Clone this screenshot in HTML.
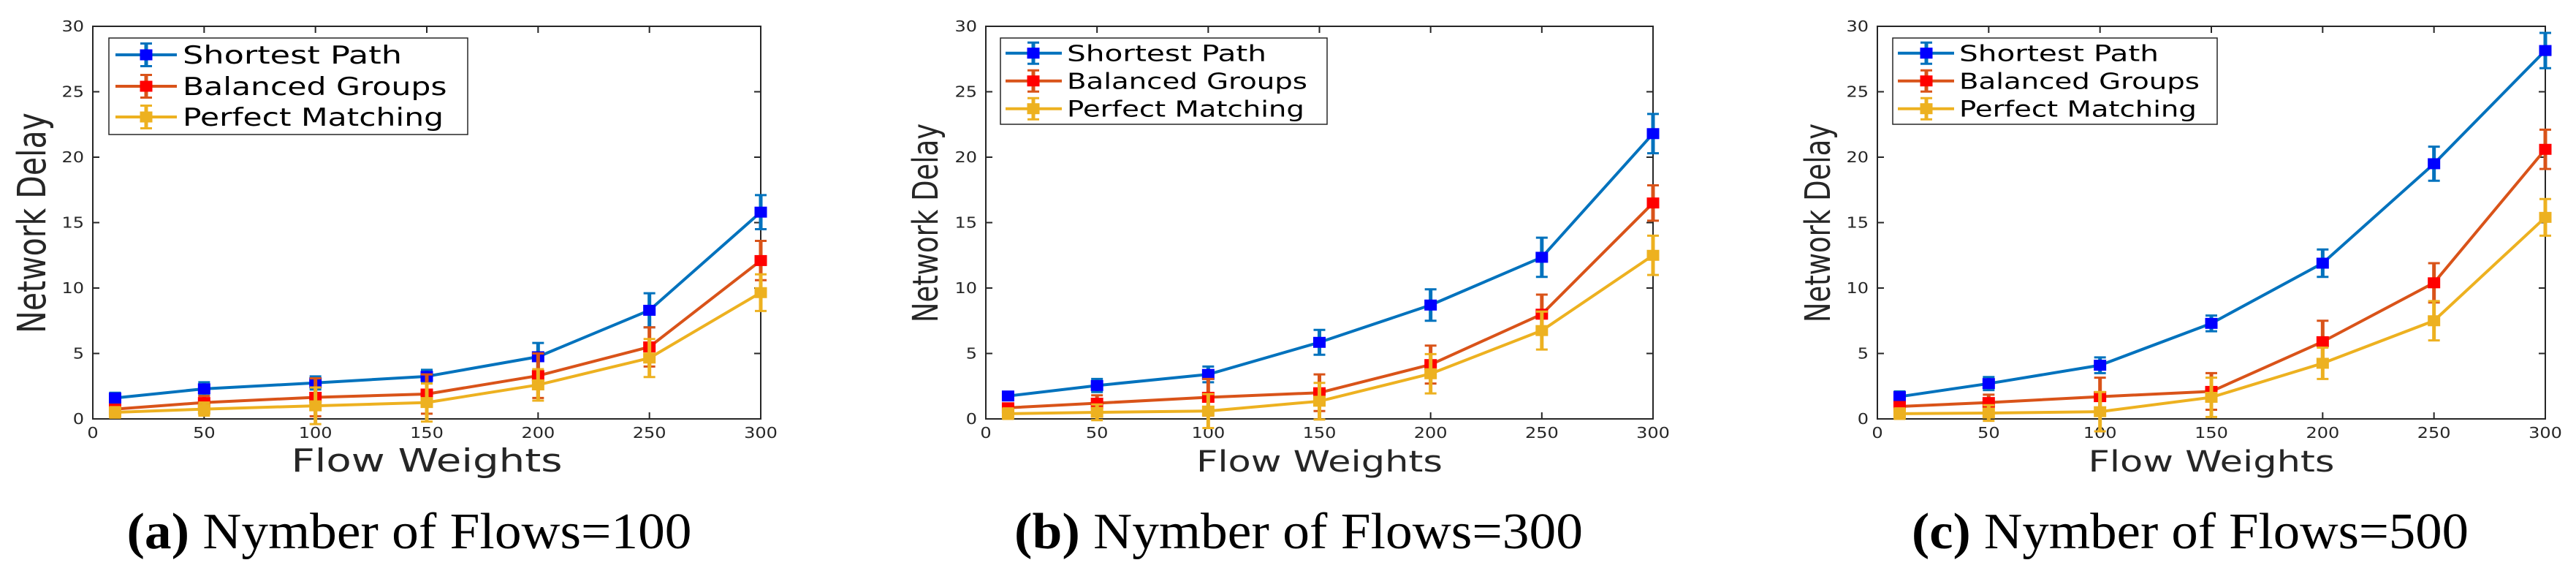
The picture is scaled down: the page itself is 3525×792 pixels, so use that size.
<!DOCTYPE html>
<html><head><meta charset="utf-8"><style>
html,body{margin:0;padding:0;background:#fff;}
svg{display:block;}
</style></head><body>
<svg id="chart" width="3525" height="792" viewBox="0 0 3525 792" xmlns="http://www.w3.org/2000/svg"></svg>
<script>
const xValues = [10, 50, 100, 150, 200, 250, 300];
const seriesNames = ["Shortest Path", "Balanced Groups", "Perfect Matching"];
const xTicks = [0, 50, 100, 150, 200, 250, 300];
const yTicks = [0, 5, 10, 15, 20, 25, 30];
const captions = ["Nymber of Flows=100", "Nymber of Flows=300", "Nymber of Flows=500"];
const captionLetters = ["(a)", "(b)", "(c)"];

// Panel (a) flows=100
const a_sp = [1.6, 2.3, 2.75, 3.25, 4.75, 8.3, 15.8];
const a_sp_err = [0.4, 0.5, 0.5, 0.5, 1.05, 1.3, 1.3];
const a_bg = [0.75, 1.25, 1.65, 1.9, 3.3, 5.5, 12.1];
const a_bg_err = [0.3, 0.5, 1.45, 1.5, 1.7, 1.5, 1.5];
const a_pm = [0.5, 0.75, 1.0, 1.25, 2.6, 4.65, 9.65];
const a_pm_err = [0.4, 0.5, 1.4, 1.45, 1.2, 1.45, 1.4];
// Panel (b) flows=300
const b_sp = [1.75, 2.55, 3.4, 5.85, 8.7, 12.35, 21.8];
const b_sp_err = [0.3, 0.5, 0.6, 0.95, 1.2, 1.5, 1.5];
const b_bg = [0.85, 1.2, 1.65, 2.0, 4.15, 8.0, 16.5];
const b_bg_err = [0.3, 0.6, 1.4, 1.4, 1.45, 1.5, 1.35];
const b_pm = [0.4, 0.5, 0.6, 1.35, 3.45, 6.75, 12.5];
const b_pm_err = [0.4, 0.6, 1.3, 1.4, 1.5, 1.45, 1.5];
// Panel (c) flows=500
const c_sp = [1.7, 2.7, 4.1, 7.3, 11.9, 19.5, 28.15];
const c_sp_err = [0.4, 0.5, 0.6, 0.6, 1.05, 1.3, 1.35];
const c_bg = [0.95, 1.25, 1.7, 2.1, 5.9, 10.4, 20.6];
const c_bg_err = [0.3, 0.6, 1.45, 1.4, 1.6, 1.5, 1.5];
const c_pm = [0.4, 0.45, 0.55, 1.65, 4.25, 7.5, 15.4];
const c_pm_err = [0.4, 0.6, 1.5, 1.5, 1.2, 1.5, 1.4];

const panelSeries = [
  [[a_sp, a_sp_err], [a_bg, a_bg_err], [a_pm, a_pm_err]],
  [[b_sp, b_sp_err], [b_bg, b_bg_err], [b_pm, b_pm_err]],
  [[c_sp, c_sp_err], [c_bg, c_bg_err], [c_pm, c_pm_err]]
];

const NS = "http://www.w3.org/2000/svg";
const svg = document.getElementById("chart");
const lineColors = ["#0072BD", "#D95319", "#EDB120"];
const markerColors = ["#0000FF", "#FF0000", "#EDB120"];
const seriesKeys = ["shortest-path", "balanced-groups", "perfect-matching"];
const panelKeys = ["a", "b", "c"];

const layouts = [
  {L:127, R:1041, legL:149, legR:640, legB:184, rows:[75,118,160], lineX1:158, lineX2:242, mX:200, txtX:250, txtW:300, legFs:34, legErr:15.5, ylx:62, ylFs:41, flowW:371, flowFs:44, capX:560, capW:773},
  {L:1349, R:2262, legL:1369, legR:1816, legB:170, rows:[72.7,110.7,148.7], lineX1:1376, lineX2:1453, mX:1414, txtX:1460, txtW:273, legFs:30.5, legErr:14.5, ylx:1283, ylFs:37, flowW:337, flowFs:40, capX:1777, capW:778},
  {L:2569, R:3483, legL:2590, legR:3034, legB:170, rows:[72.7,110.7,148.7], lineX1:2597, lineX2:2674, mX:2636, txtX:2681, txtW:273, legFs:30.5, legErr:14.5, ylx:2504, ylFs:37, flowW:337, flowFs:40, capX:2997, capW:762}
];
const TOP = 36, BOT = 573;

function mk(tag, attrs, parent) {
  const e = document.createElementNS(NS, tag);
  for (const k in attrs) e.setAttribute(k, attrs[k]);
  (parent || svg).appendChild(e);
  return e;
}

layouts.forEach((P, pi) => {
  const g = mk("g", {});
  
  
  const xs = v => P.L + (v - 0) / 300 * (P.R - P.L);
  const ys = v => BOT - v / 30 * (BOT - TOP);

  // axes box
  const box = mk("rect", {x:P.L, y:TOP, width:P.R-P.L, height:BOT-TOP, fill:"none", stroke:"#262626", "stroke-width":2}, g);
  
  

  // x ticks
  xTicks.forEach(t => {
    const x = xs(t);
    mk("line", {x1:x, y1:BOT, x2:x, y2:BOT-9, stroke:"#262626", "stroke-width":2}, g);
    mk("line", {x1:x, y1:TOP, x2:x, y2:TOP+9, stroke:"#262626", "stroke-width":2}, g);
    const tx = mk("text", {transform:`translate(${x},599) scale(1.2,1)`, "text-anchor":"middle", "font-family":"DejaVu Sans, Liberation Sans, sans-serif", "font-size":20, fill:"#262626"}, g);
    tx.textContent = t;
    
    
  });
  // y ticks
  yTicks.forEach(t => {
    const y = ys(t);
    mk("line", {x1:P.L, y1:y, x2:P.L+9, y2:y, stroke:"#262626", "stroke-width":2}, g);
    mk("line", {x1:P.R, y1:y, x2:P.R-9, y2:y, stroke:"#262626", "stroke-width":2}, g);
    const tx = mk("text", {transform:`translate(${P.L-12},${y+7}) scale(1.2,1)`, "text-anchor":"end", "font-family":"DejaVu Sans, Liberation Sans, sans-serif", "font-size":20, fill:"#262626"}, g);
    tx.textContent = t;
    
    
  });

  // axis titles
  const xt = mk("text", {x:(P.L+P.R)/2, y:645, "text-anchor":"middle", "font-family":"DejaVu Sans, Liberation Sans, sans-serif", "font-size":P.flowFs, fill:"#262626", textLength:P.flowW, lengthAdjust:"spacingAndGlyphs"}, g);
  xt.textContent = "Flow Weights";
  
  
  const yt = mk("text", {transform:`translate(${P.ylx},305) scale(1.3,1) rotate(-90)`, "text-anchor":"middle", "font-family":"DejaVu Sans, Liberation Sans, sans-serif", "font-size":P.ylFs, fill:"#262626"}, g);
  yt.textContent = "Network Delay";
  
  

  // series
  panelSeries[pi].forEach((s, si) => {
    const vals = s[0], errs = s[1];
    const sg = mk("g", {}, g);
    
    
    const pts = vals.map((v, i) => xs(xValues[i]) + "," + ys(v)).join(" ");
    const pl = mk("polyline", {points:pts, fill:"none", stroke:lineColors[si], "stroke-width":4, "stroke-linejoin":"round"}, sg);
    
    
    vals.forEach((v, i) => {
      const x = xs(xValues[i]);
      const y1 = ys(v - errs[i]), y2 = ys(v + errs[i]);
      const eb = mk("path", {d:`M${x},${y1}V${y2}M${x-8},${y1}H${x+8}M${x-8},${y2}H${x+8}`, stroke:lineColors[si], "stroke-width":0, fill:"none"}, sg);
      eb.setAttribute("stroke-width", 3);
      
      
      const vb = mk("line", {x1:x, y1:y1, x2:x, y2:y2, stroke:lineColors[si], "stroke-width":5}, sg);
      
      
      const m = mk("rect", {x:x-8.5, y:ys(v)-7.5, width:17, height:15, fill:markerColors[si]}, sg);
      
      
    });
  });

  // legend
  const lg = mk("g", {}, g);
  
  
  const lb = mk("rect", {x:P.legL, y:52, width:P.legR-P.legL, height:P.legB-52, fill:"#fff", stroke:"#262626", "stroke-width":1.5}, lg);
  
  
  seriesNames.forEach((name, si) => {
    const ry = P.rows[si];
    const eg = mk("g", {}, lg);
    
    
    mk("line", {x1:P.lineX1, y1:ry, x2:P.lineX2, y2:ry, stroke:lineColors[si], "stroke-width":4}, eg);
    mk("line", {x1:P.mX, y1:ry-P.legErr, x2:P.mX, y2:ry+P.legErr, stroke:lineColors[si], "stroke-width":5}, eg);
    mk("path", {d:`M${P.mX-8},${ry-P.legErr}H${P.mX+8}M${P.mX-8},${ry+P.legErr}H${P.mX+8}`, stroke:lineColors[si], "stroke-width":3}, eg);
    mk("rect", {x:P.mX-8.5, y:ry-7.5, width:17, height:15, fill:markerColors[si]}, eg);
    const t = mk("text", {x:P.txtX, y:ry + P.legFs*0.36, "font-family":"DejaVu Sans, Liberation Sans, sans-serif", "font-size":P.legFs, fill:"#000"}, eg);
    t.textContent = name;
    t.setAttribute("textLength", name === "Shortest Path" ? P.txtW : (name === "Balanced Groups" ? P.txtW*1.205 : P.txtW*1.19));
    t.setAttribute("lengthAdjust", "spacingAndGlyphs");
    
    
  });

  // caption
  const cap = mk("text", {x:P.capX, y:750, "text-anchor":"middle", "font-family":"Liberation Serif, serif", "font-size":70, fill:"#000", textLength:P.capW, lengthAdjust:"spacingAndGlyphs"}, g);
  
  
  const b1 = mk("tspan", {"font-weight":"bold"}, cap);
  b1.textContent = captionLetters[pi];
  const b2 = mk("tspan", {}, cap);
  b2.textContent = " " + captions[pi];
});
</script>
</body></html>
